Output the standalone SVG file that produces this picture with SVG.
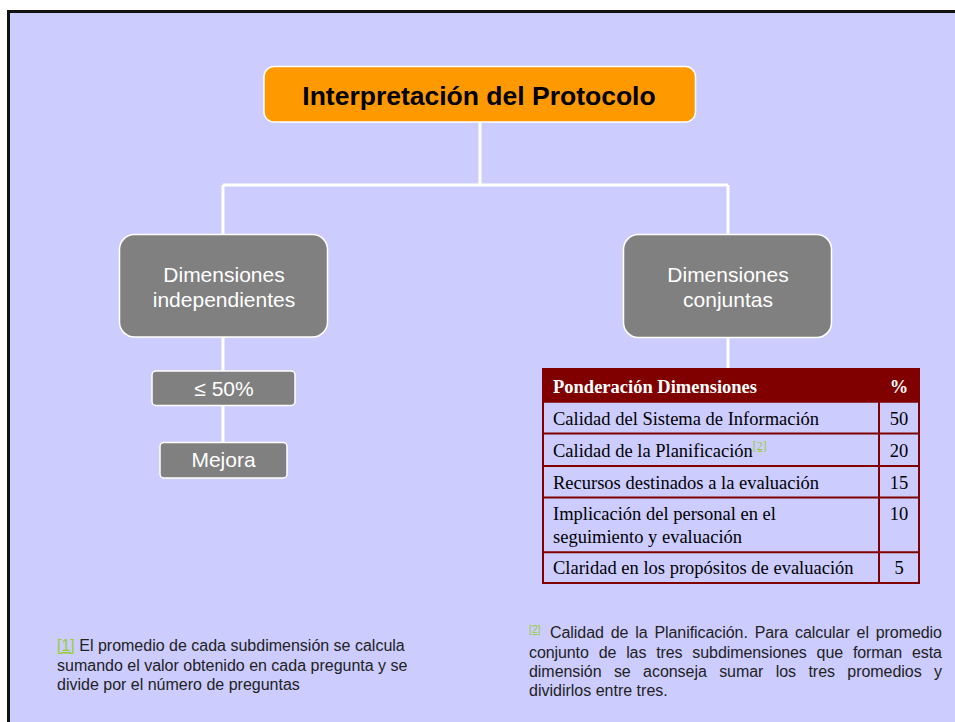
<svg xmlns="http://www.w3.org/2000/svg" width="955" height="722" viewBox="0 0 955 722">
<style>
.gbox{fill:#808080;stroke:#ffffff;stroke-width:1.5}
.gtxt{font-family:"Liberation Sans",Arial,sans-serif;font-size:21px;fill:#ffffff;text-anchor:middle}
.conn{stroke:#ffffff;stroke-width:3;fill:none}
.tb{font-family:"Liberation Serif","Times New Roman",serif;font-size:18.5px;fill:#000000}
.th{font-weight:bold;fill:#ffffff}
.tnum{text-anchor:middle}
.grid{stroke:#800000;stroke-width:2;fill:none}
.fn{font-family:"Liberation Sans",Arial,sans-serif;font-size:16px;fill:#222222}
.ref{fill:#99CC33;text-decoration:underline}
.sup{font-size:10.5px}
</style>
<rect x="0" y="0" width="955" height="722" fill="#ffffff"/>
<rect x="8.5" y="11.5" width="960" height="720" fill="#CCCCFF" stroke="#111111" stroke-width="3"/>
<g id="connectors">
<path class="conn" d="M480,122 V185"/>
<path class="conn" d="M223,185 H728"/>
<path class="conn" d="M223,185 V234"/>
<path class="conn" d="M728,185 V234"/>
<path class="conn" d="M223,337 V371"/>
<path class="conn" d="M223,405 V442"/>
<path class="conn" d="M728,338 V369"/>
</g>
<g id="title">
<rect x="264" y="66.5" width="431.5" height="55.5" rx="10" fill="#FF9900" stroke="#ffffff" stroke-width="1.5"/>
<text x="479" y="104.5" text-anchor="middle" font-family="Liberation Sans,Arial,sans-serif" font-weight="bold" font-size="26.5" fill="#000000">Interpretación del Protocolo</text>
</g>
<g id="dim-independientes">
<rect class="gbox" x="119.5" y="234.5" width="208" height="102.5" rx="15"/>
<text class="gtxt" x="224" y="282">Dimensiones</text>
<text class="gtxt" x="224" y="307">independientes</text>
</g>
<g id="dim-conjuntas">
<rect class="gbox" x="623.5" y="234.5" width="208" height="103" rx="15"/>
<text class="gtxt" x="728" y="282">Dimensiones</text>
<text class="gtxt" x="728" y="307">conjuntas</text>
</g>
<g id="le50">
<rect class="gbox" x="152" y="371" width="143" height="34.5" rx="4"/>
<text class="gtxt" x="224" y="396">≤ 50%</text>
</g>
<g id="mejora">
<rect class="gbox" x="160" y="442.5" width="127" height="35.5" rx="4"/>
<text class="gtxt" x="223.5" y="467">Mejora</text>
</g>
<g id="tabla">
<rect x="543" y="369" width="376" height="33" fill="#800000"/>
<rect class="grid" x="543" y="369" width="376" height="214"/>
<path class="grid" d="M543,401.7 H919 M543,433.5 H919 M543,466 H919 M543,497.5 H919 M543,552.3 H919 M879,401.7 V583"/>
<text class="tb th" x="553" y="393">Ponderación Dimensiones</text>
<text class="tb th tnum" x="899" y="393">%</text>
<text class="tb" x="553" y="425">Calidad del Sistema de Información</text>
<text class="tb tnum" x="899" y="425">50</text>
<text class="tb" x="553" y="457">Calidad de la Planificación<tspan font-size="12" dy="-7.5" class="ref">[2]</tspan></text>
<text class="tb tnum" x="899" y="457">20</text>
<text class="tb" x="553" y="488.5">Recursos destinados a la evaluación</text>
<text class="tb tnum" x="899" y="488.5">15</text>
<text class="tb" x="553" y="519.5">Implicación del personal en el</text>
<text class="tb" x="553" y="543">seguimiento y evaluación</text>
<text class="tb tnum" x="899" y="519.5">10</text>
<text class="tb" x="553" y="573.5">Claridad en los propósitos de evaluación</text>
<text class="tb tnum" x="899" y="573.5">5</text>
</g>
<g id="nota1">
<text class="fn" x="57" y="651"><tspan class="ref">[1]</tspan> El promedio de cada subdimensión se calcula</text>
<text class="fn" x="57" y="670.5">sumando el valor obtenido en cada pregunta y se</text>
<text class="fn" x="57" y="690">divide por el número de preguntas</text>
</g>
<g id="nota2">
<text class="fn ref sup" x="529" y="633">[2]</text>
<text class="fn" x="550" y="638" word-spacing="2.5" textLength="392" lengthAdjust="spacing">Calidad de la Planificación. Para calcular el promedio</text>
<text class="fn" x="529" y="657.5" word-spacing="5.5" textLength="413" lengthAdjust="spacing">conjunto de las tres subdimensiones que forman esta</text>
<text class="fn" x="529" y="677" word-spacing="8" textLength="413" lengthAdjust="spacing">dimensión se aconseja sumar los tres promedios y</text>
<text class="fn" x="529" y="696">dividirlos entre tres.</text>
</g>
</svg>
